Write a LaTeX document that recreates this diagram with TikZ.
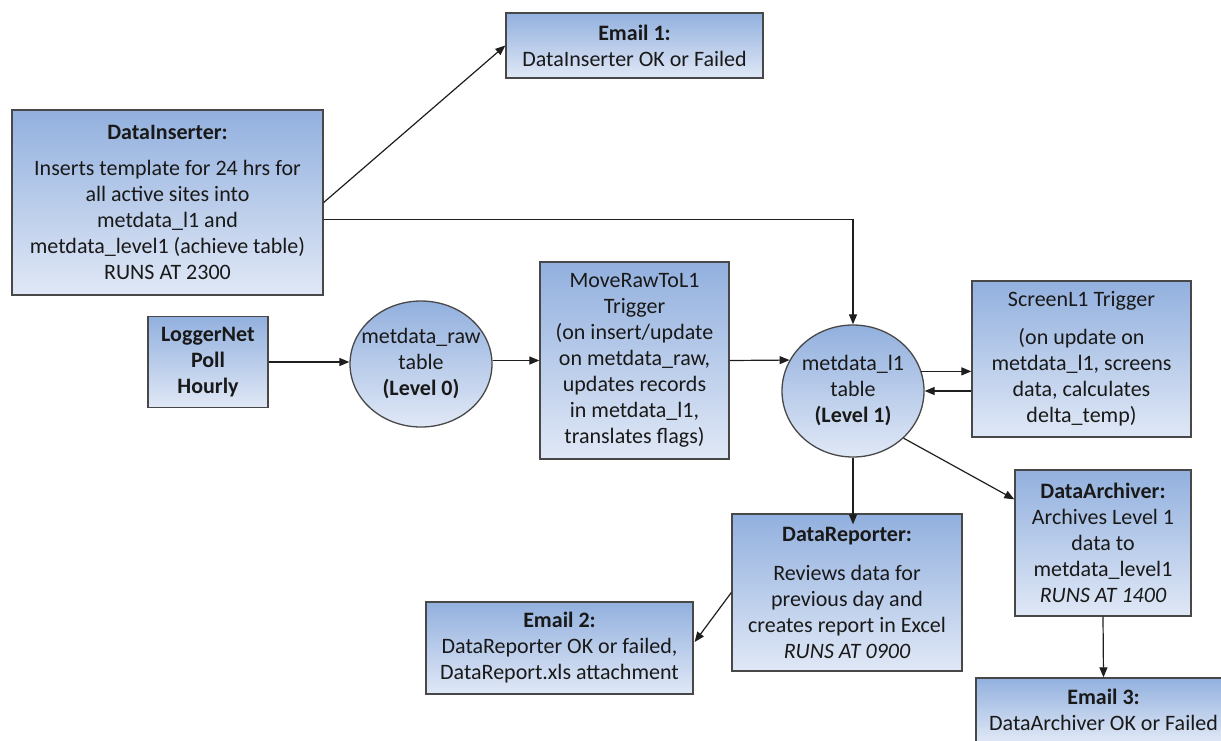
\documentclass[tikz,border=0pt]{standalone}
\usepackage{fontspec}
\setmainfont{Carlito}
\usetikzlibrary{arrows.meta,shapes.geometric,calc}

\definecolor{shadetop}{RGB}{146,176,222}
\definecolor{shadebot}{RGB}{224,232,246}
\definecolor{edge}{RGB}{72,72,72}
\definecolor{ink}{RGB}{25,25,25}
\definecolor{wire}{RGB}{30,30,30}

\tikzset{
  stepbox/.style={draw=edge, line width=1.3pt, shading=axis,
    top color=shadetop, bottom color=shadebot, shading angle=0,
    align=center, inner sep=0pt, text=ink,
    font=\fontsize{22}{26}\selectfont},
  tablebox/.style={ellipse, draw=edge, line width=1.3pt, shading=axis,
    top color=shadetop, bottom color=shadebot, inner sep=0pt},
  tabletext/.style={align=center, inner sep=0pt, text=ink,
    font=\fontsize{22}{26}\selectfont},
  flow/.style={draw=wire, line width=1.2pt,
    -{Triangle[length=10pt,width=8pt]}}
}

\begin{document}
\begin{tikzpicture}[x=1pt,y=-1pt]
\useasboundingbox (0,0) rectangle (1221,740);
\clip (0,0) rectangle (1221,740);

% process boxes
\node[stepbox, minimum width=257, minimum height=65] (email1) at (634.5,45.5)
  {\textbf{Email 1:}\\ DataInserter OK or Failed};
\node[stepbox, minimum width=311, minimum height=185] (inserter) at (167.5,202.5)
  {\textbf{DataInserter:}\\[10pt] Inserts template for 24 hrs for\\ all active sites into\\
   metdata\_l1 and\\ metdata\_level1 (achieve table)\\ RUNS AT 2300};
\node[stepbox, minimum width=120, minimum height=91] (logger) at (208,362)
  {\textbf{LoggerNet}\\ \textbf{Poll}\\ \textbf{Hourly}};
\node[stepbox, minimum width=189, minimum height=197] (move) at (634.5,360.5)
  {MoveRawToL1\\ Trigger\\ (on insert/update\\ on metdata\_raw,\\ updates records\\
   in metdata\_l1,\\ translates flags)};
\node[stepbox, minimum width=219, minimum height=156] (screen) at (1081.5,359)
  {ScreenL1 Trigger\\[12pt] (on update on\\ metdata\_l1, screens\\ data, calculates\\ delta\_temp)};
\node[stepbox, minimum width=230, minimum height=157] (reporter) at (847,592.5)
  {\textbf{DataReporter:}\\[13pt] Reviews data for\\ previous day and\\
   creates report in Excel\\ \textit{RUNS AT 0900}};
\node[stepbox, minimum width=267, minimum height=92] (email2) at (559.5,648)
  {\textbf{Email 2:}\\ DataReporter OK or failed,\\ DataReport.xls attachment};
\node[stepbox, minimum width=176, minimum height=146] (archiver) at (1103,543)
  {\textbf{DataArchiver:}\\ Archives Level 1\\ data to\\ metdata\_level1\\ \textit{RUNS AT 1400}};
\node[stepbox, minimum width=255, minimum height=64] (email3) at (1103.5,710)
  {\textbf{Email 3:}\\ DataArchiver OK or Failed};

% data tables
\node[tablebox, minimum width=142, minimum height=126] (raw) at (421,364) {};
\node[tabletext] (rawtext) at (raw) {metdata\_raw\\ table\\ \textbf{(Level 0)}};
\node[tablebox, minimum width=142, minimum height=132] (l1) at (853,391) {};
\node[tabletext] (l1text) at (l1) {metdata\_l1\\ table\\ \textbf{(Level 1)}};

% connectors
\draw[flow] (inserter.east) -- (email1.west);
\draw[flow] ($(inserter.east)+(0,17)$) -| (l1.north);
\draw[flow] (logger.east) -- (logger.east -| raw.west);
\draw[flow] (move.west -| raw.east) -- (move.west);
\draw[flow] (move.east) -- (l1.154);
\draw[flow] (l1.16.5) -- (l1.16.5 -| screen.west);
\draw[flow] (screen.west |- l1.east) -- (l1.east);
\draw[flow] (l1.south) -- ($(l1.south |- reporter.north)+(0,11)$);
\draw[flow] (l1.-43) -- ($(archiver.north west)+(0,30)$);
\draw[flow] (reporter.west) -- ($(email2.east)+(1,-6)$);
\draw[flow] (archiver.south) -- (email3.north);
\end{tikzpicture}
\end{document}
